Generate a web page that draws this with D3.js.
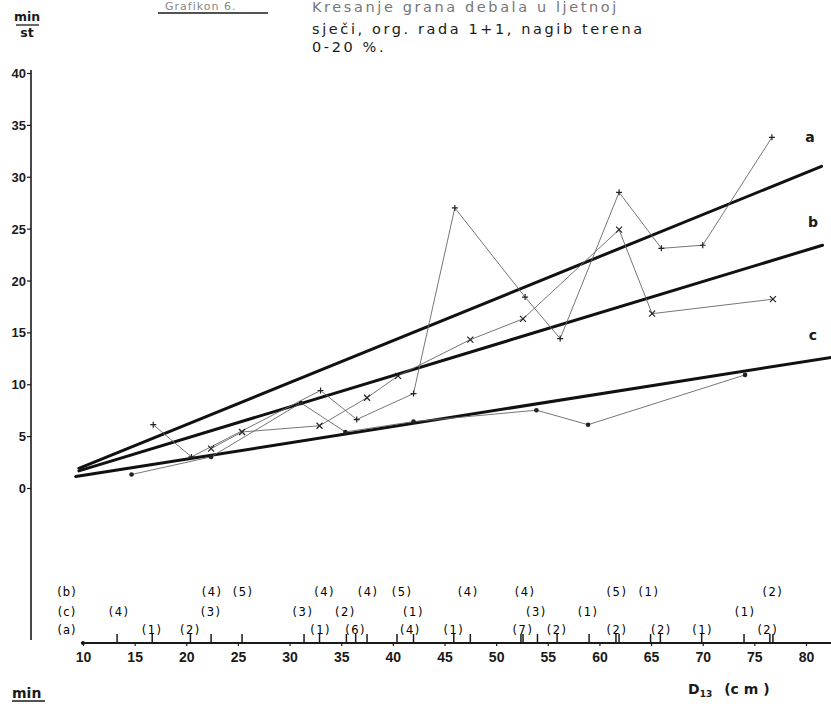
<!DOCTYPE html>
<html><head><meta charset="utf-8">
<script src="https://cdn.jsdelivr.net/npm/d3@7"></script>
<style>
body{margin:0;background:#fff;}
svg{display:block;font-family:"DejaVu Sans",sans-serif;}
</style></head>
<body><svg id="c" width="831" height="704"></svg>
<script>
// ---------- data ----------
const xTickValues = [10,15,20,25,30,35,40,45,50,55,60,65,70,75,80];
const yTickValues = [0,5,10,15,20,25,30,35,40];

// series a (+ markers)
const seriesA_D = [16.8,20.5,33.0,36.5,42.0,46.0,52.8,56.2,61.9,66.0,70.0,76.7];
const seriesA_T = [6.1,3.0,9.4,6.6,9.1,27.0,18.4,14.4,28.5,23.1,23.4,33.8];
// series b (x markers)
const seriesB_D = [22.4,25.4,32.9,37.5,40.5,47.5,52.6,61.9,65.1,76.8];
const seriesB_T = [3.8,5.4,6.0,8.7,10.8,14.3,16.3,24.9,16.8,18.2];
// series c (dot markers)
const seriesC_D = [14.7,22.4,31.1,35.4,42.0,53.9,58.9,74.1];
const seriesC_T = [1.3,3.0,8.2,5.4,6.4,7.5,6.1,10.9];

// fitted lines (start / end points)
const lineA = [[9.6,1.9],[81.5,31.0]];
const lineB = [[9.6,1.65],[81.6,23.4]];
const lineC = [[9.3,1.1],[82.5,12.6]];
const lineNames = ["a","b","c"];

// diameter marks on the D axis
const markD = [13.3,16.7,20.4,22.4,25.4,31.4,32.9,35.5,36.4,37.5,40.4,42.0,45.9,47.5,52.4,52.6,54.0,55.9,59.0,61.6,61.9,64.95,65.9,69.9,74.0,76.5,76.8];

// sample counts
const countB_D = [22.5,25.5,33.4,37.6,40.9,47.3,52.8,61.7,64.8,76.8];
const countB_N = ["(4)","(5)","(4)","(4)","(5)","(4)","(4)","(5)","(1)","(2)"];
const countC_D = [13.5,22.4,31.3,35.4,42.0,53.9,58.9,74.1];
const countC_N = ["(4)","(3)","(3)","(2)","(1)","(3)","(1)","(1)"];
const countA_D = [16.7,20.4,33.0,36.4,41.7,45.9,52.6,55.9,61.7,66.0,70.0,76.3];
const countA_N = ["(1)","(2)","(1)","(6)","(4)","(1)","(7)","(2)","(2)","(2)","(1)","(2)"];

const titleLines = ["Kresanje grana debala u ljetnoj","sječi, org. rada 1+1, nagib terena","0-20 %."];
const figLabel = "Grafikon 6.";

// ---------- drawing ----------
const svg = d3.select("#c");
const x = d3.scaleLinear().domain([10,80]).range([83,806]);
const y = d3.scaleLinear().domain([0,40]).range([488,73]);
const ink = "#1a1a1a";

// title
svg.append("text").attr("x",165).attr("y",10).attr("font-size",11).attr("fill","#888").attr("letter-spacing",1).text(figLabel);
svg.append("line").attr("x1",158).attr("x2",268).attr("y1",13).attr("y2",13).attr("stroke",ink).attr("stroke-width",1.5);
const titleY = [12,34,52];
titleLines.forEach((t,i)=>{
  svg.append("text").attr("x",312).attr("y",titleY[i]).attr("font-size",14.5)
    .attr("letter-spacing",2.6).attr("fill",i===0?"#777":ink).text(t);
});
// unit min/st
svg.append("text").attr("x",27).attr("y",21).attr("text-anchor","middle").attr("font-size",12.5).attr("font-weight","bold").attr("fill",ink).text("min");
svg.append("line").attr("x1",16).attr("x2",39).attr("y1",25).attr("y2",25).attr("stroke",ink).attr("stroke-width",1.3);
svg.append("text").attr("x",27).attr("y",37).attr("text-anchor","middle").attr("font-size",12.5).attr("font-weight","bold").attr("fill",ink).text("st");

// y axis
const yAxis = d3.axisLeft(y).tickValues(yTickValues).tickSize(4).tickPadding(1).tickFormat(d3.format("d"));
const gy = svg.append("g").attr("transform","translate(31,0)").call(yAxis);
gy.select(".domain").remove();
gy.selectAll("text").attr("font-size",13).attr("font-weight","bold").attr("fill",ink).attr("dy","0.35em");
gy.selectAll("line").attr("stroke",ink).attr("stroke-width",1.2);
svg.append("line").attr("x1",31).attr("x2",31).attr("y1",y(40)-3).attr("y2",640).attr("stroke",ink).attr("stroke-width",1.6);

// x axis (D)
const axY = 643;
const xAxis = d3.axisBottom(x).tickValues(xTickValues).tickSize(3).tickPadding(6).tickFormat(d3.format("d"));
const gx = svg.append("g").attr("transform",`translate(0,${axY})`).call(xAxis);
gx.select(".domain").remove();
gx.selectAll("text").attr("font-size",14).attr("font-weight","bold").attr("fill",ink);
gx.selectAll("line").attr("stroke",ink).attr("stroke-width",1.2);
svg.append("line").attr("x1",x(9.8)).attr("x2",831).attr("y1",axY).attr("y2",axY).attr("stroke",ink).attr("stroke-width",1.8);
svg.append("circle").attr("cx",x(10)).attr("cy",axY).attr("r",2).attr("fill",ink);
svg.selectAll(".mark").data(markD).join("line").attr("class","mark")
  .attr("x1",d=>x(d)).attr("x2",d=>x(d)).attr("y1",axY).attr("y2",axY-9)
  .attr("stroke",ink).attr("stroke-width",1.5);

// counts
const rows = [["(b)",592,countB_D,countB_N],["(c)",612,countC_D,countC_N],["(a)",630,countA_D,countA_N]];
rows.forEach(([lab,yy,ds,ns])=>{
  svg.append("text").attr("x",67).attr("y",yy).attr("dy","0.35em").attr("text-anchor","middle")
    .attr("font-size",11.5).attr("fill","#000").attr("letter-spacing",1).text(lab);
  svg.append("g").selectAll("text").data(ds).join("text")
    .attr("x",d=>x(d)).attr("y",yy).attr("dy","0.35em").attr("text-anchor","middle")
    .attr("font-size",11.5).attr("fill","#000").attr("letter-spacing",1.5).text((d,i)=>ns[i]);
});

// axis title
const dt = svg.append("text").attr("x",688).attr("y",694).attr("font-size",14).attr("font-weight","bold").attr("fill",ink);
dt.append("tspan").text("D");
dt.append("tspan").attr("font-size",9).attr("dy",3).text("13");
dt.append("tspan").attr("dy",-3).attr("dx",12).text("(c m )");
svg.append("text").attr("x",12).attr("y",698).attr("font-size",14).attr("font-weight","bold").attr("fill",ink).text("min");
svg.append("line").attr("x1",12).attr("x2",45).attr("y1",701).attr("y2",701).attr("stroke",ink).attr("stroke-width",1.5);

// fitted lines
const lineGen = d3.line().x(d=>x(d[0])).y(d=>y(d[1]));
[lineA,lineB,lineC].forEach((l,i)=>{
  svg.append("path").attr("d",lineGen(l)).attr("fill","none").attr("stroke","#111").attr("stroke-width",3).attr("stroke-linecap","round");
});
const labPos = [[810,137],[813,222],[813,335]];
lineNames.forEach((n,i)=>{
  svg.append("text").attr("x",labPos[i][0]).attr("y",labPos[i][1]).attr("dy","0.35em").attr("text-anchor","middle")
    .attr("font-size",14).attr("font-weight","bold").attr("fill",ink).text(n);
});

// data series
function series(D,T,marker){
  const pts = D.map((d,i)=>[d,T[i]]);
  svg.append("path").attr("d",lineGen(pts)).attr("fill","none").attr("stroke","#666").attr("stroke-width",0.9);
  const g = svg.append("g");
  pts.forEach(p=>{
    const cx=x(p[0]), cy=y(p[1]);
    if(marker==="plus"){
      g.append("path").attr("d",`M${cx-3},${cy}H${cx+3}M${cx},${cy-3}V${cy+3}`).attr("stroke","#222").attr("stroke-width",1.2);
    } else if(marker==="cross"){
      g.append("path").attr("d",`M${cx-3},${cy-3}L${cx+3},${cy+3}M${cx-3},${cy+3}L${cx+3},${cy-3}`).attr("stroke","#222").attr("stroke-width",1.2);
    } else {
      g.append("circle").attr("cx",cx).attr("cy",cy).attr("r",2.3).attr("fill","#222");
    }
  });
}
series(seriesA_D,seriesA_T,"plus");
series(seriesB_D,seriesB_T,"cross");
series(seriesC_D,seriesC_T,"dot");
</script></body></html>
